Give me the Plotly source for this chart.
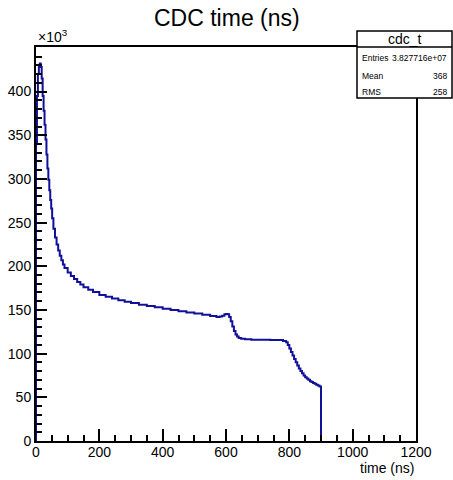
import plotly.graph_objects as go

# Histogram bin left edges (ns) and contents (x10^3 entries)
bin_edges = [0, 3, 6, 9, 12, 15, 18, 21, 24, 27, 30, 33, 36, 39, 42, 45, 48, 51, 55, 60,
             65, 70, 75, 80, 85, 90, 100, 110, 120, 130, 140, 150, 165, 180, 200, 220, 240,
             260, 280, 300, 325, 350, 375, 400, 425, 450, 475, 500, 525, 550, 570, 580, 588,
             595, 600, 605, 610, 615, 620, 625, 630, 635, 640, 648, 660, 680, 700, 720, 740,
             760, 780, 790, 795, 800, 805, 810, 815, 820, 825, 830, 835, 840, 845, 850, 855,
             860, 865, 870, 875, 880, 885, 890, 895, 900]
counts = [340, 395, 420, 430, 432, 428, 415, 395, 378, 362, 345, 328, 312, 299, 287, 276,
          266, 255, 243, 233, 225, 218, 212, 207, 202, 198, 193, 189, 185.5, 182, 179, 176,
          173, 170.5, 167, 165, 163, 161, 159.5, 158, 156, 154.5, 153, 151.5, 150, 148.5,
          147, 146, 144.5, 143, 142, 142.5, 143.5, 145, 145.5, 145, 142, 137, 131, 126, 122,
          119.5, 118, 117, 116.5, 116, 116, 116, 115.5, 115.5, 114.5, 113, 110, 106, 102, 98,
          94, 90, 86.5, 83, 80, 77.5, 75, 73, 71.5, 70, 68.5, 67.5, 66.5, 65.5, 64.5, 63.5,
          62.5]

x_tick_vals = [0, 200, 400, 600, 800, 1000, 1200]
y_tick_vals = [0, 50, 100, 150, 200, 250, 300, 350, 400]

title_text = "CDC time (ns)"
x_title = "time (ns)"
stats_name = "cdc_t"
stats_rows = [("Entries", "3.827716e+07"), ("Mean", "368"), ("RMS", "258")]

W, H = 453, 480
L, R, T, B = 36, 416, 47, 441

def px(xp):
    return (xp - L) / (R - L)

def py(yp):
    return (B - yp) / (B - T)

# step line: start at zero, hold last value to the final edge, then drop to zero
xs = [0] + bin_edges + [bin_edges[-1]]
ys = [0] + counts + [counts[-1], 0]

fig = go.Figure()
fig.add_trace(go.Scatter(x=xs, y=ys, mode="lines", line=dict(shape="hv", color="#10109a", width=2),
                         hoverinfo="skip", showlegend=False))

font = "Liberation Sans, Arial, Helvetica, sans-serif"
fig.update_layout(
    width=W, height=H,
    margin=dict(l=L, r=W - R, t=T, b=H - B, autoexpand=False),
    plot_bgcolor="white", paper_bgcolor="white",
    font=dict(family=font, color="black", size=14),
    showlegend=False,
)
fig.update_xaxes(range=[0, 1200], tickvals=x_tick_vals, ticks="inside", ticklen=12, tickwidth=2,
                 tickcolor="black", showline=True, linewidth=2, linecolor="black", mirror=True,
                 showgrid=False, zeroline=False, tickfont=dict(size=14), automargin=False,
                 ticklabelstandoff=-3,
                 minor=dict(dtick=50, ticks="inside", ticklen=6, tickwidth=2, tickcolor="black", showgrid=False))
fig.update_yaxes(range=[0, 451], tickvals=y_tick_vals, ticks="inside", ticklen=11, tickwidth=2,
                 tickcolor="black", showline=True, linewidth=2, linecolor="black", mirror=True,
                 showgrid=False, zeroline=False, tickfont=dict(size=14), automargin=False,
                 minor=dict(dtick=10, ticks="inside", ticklen=6, tickwidth=2, tickcolor="black", showgrid=False))

ann = []
ann.append(dict(text=title_text, x=px(227), y=py(18), xref="paper", yref="paper", showarrow=False,
                xanchor="center", yanchor="middle", font=dict(size=23)))
ann.append(dict(text="×10<sup>3</sup>", x=0, y=1, xref="paper", yref="paper", showarrow=False,
                xanchor="left", yanchor="bottom", yshift=0, font=dict(size=14)))
ann.append(dict(text=x_title, x=1, y=py(468), xref="paper", yref="paper", showarrow=False,
                xanchor="right", yanchor="middle", font=dict(size=14)))

# stats box
bx0, bx1, by0, by1, bsep = 357, 452, 98, 31, 47
shapes = [
    dict(type="rect", xref="paper", yref="paper", x0=px(bx0), x1=px(bx1), y0=py(by0), y1=py(by1),
         line=dict(color="black", width=1.5), fillcolor="white", layer="above"),
    dict(type="line", xref="paper", yref="paper", x0=px(bx0), x1=px(bx1), y0=py(bsep), y1=py(bsep),
         line=dict(color="black", width=1.5), layer="above"),
]
ann.append(dict(text=stats_name, x=px((bx0 + bx1) / 2), y=py(39), xref="paper", yref="paper",
                showarrow=False, xanchor="center", yanchor="middle", font=dict(size=14)))
row_y = [58, 76, 92]
for (lab, val), yy in zip(stats_rows, row_y):
    ann.append(dict(text=lab, x=px(bx0 + 3), y=py(yy), xref="paper", yref="paper",
                    showarrow=False, xanchor="left", yanchor="middle", font=dict(size=8.5)))
    ann.append(dict(text=val, x=px(bx1 - 3), y=py(yy), xref="paper", yref="paper",
                    showarrow=False, xanchor="right", yanchor="middle", font=dict(size=8.5)))

fig.update_layout(annotations=ann, shapes=shapes)
fig.write_html("out.html", config={"displayModeBar": False},
               post_script="document.body.style.margin='0';document.body.style.padding='0';")
